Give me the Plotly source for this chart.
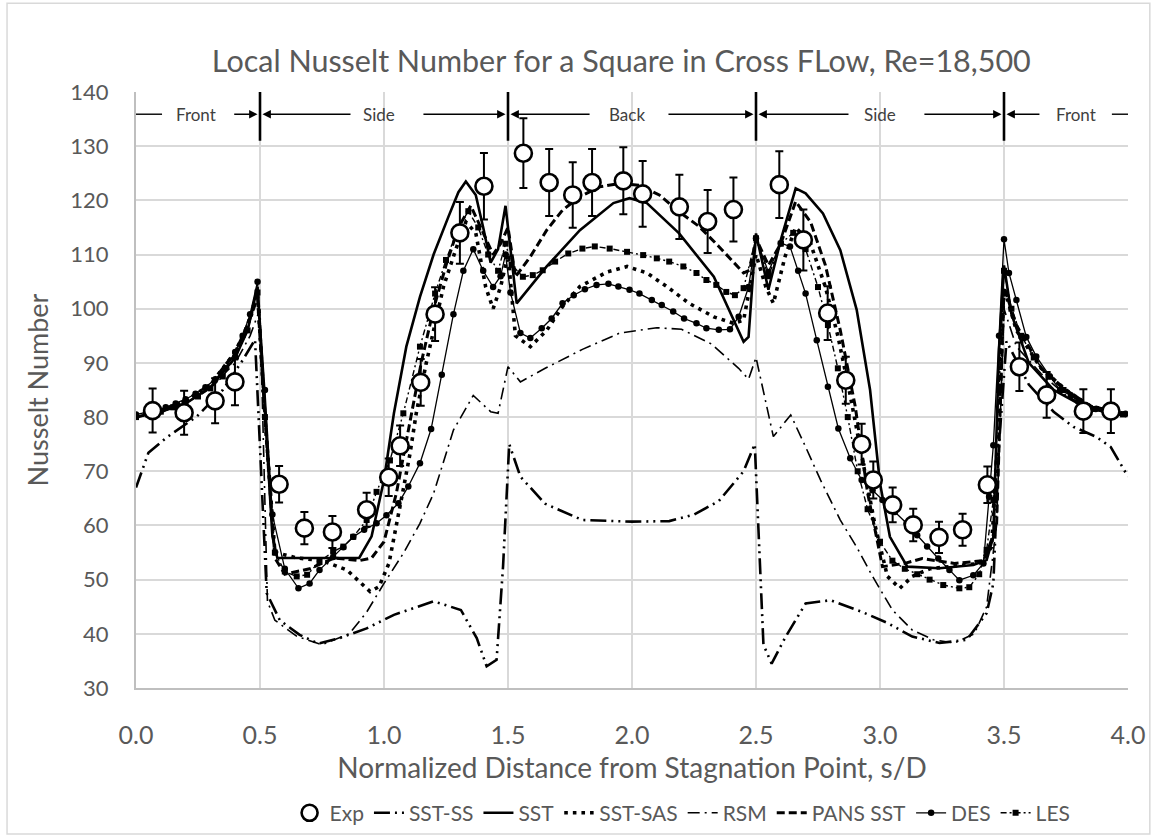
import plotly.graph_objects as go

# ---------------- data ----------------
exp_x = [0.067, 0.194, 0.319, 0.399, 0.577, 0.679, 0.792, 0.930, 1.019, 1.065,
         1.148, 1.206, 1.306, 1.403, 1.562, 1.666, 1.761, 1.839, 1.965, 2.043,
         2.191, 2.305, 2.409, 2.594, 2.691, 2.789, 2.862, 2.926, 2.973, 3.051,
         3.134, 3.238, 3.333, 3.433, 3.562, 3.672, 3.820, 3.931]
exp_y = [81.2, 80.8, 83.0, 86.5, 67.6, 59.5, 58.8, 62.9, 68.9, 74.7,
         86.4, 99.0, 114.0, 122.6, 128.7, 123.3, 121.0, 123.3, 123.6, 121.2,
         118.8, 116.1, 118.3, 122.9, 112.7, 99.2, 86.8, 75.0, 68.4, 63.8,
         60.1, 57.8, 59.2, 67.5, 89.3, 84.1, 81.1, 81.1]
exp_err_pct = 5

sst_ss_x = [0.0, 0.05, 0.125, 0.245, 0.35, 0.43, 0.48, 0.50, 0.527, 0.58,
            0.66, 0.735, 0.82, 0.93, 1.04, 1.2, 1.31, 1.374, 1.414, 1.454,
            1.48, 1.505, 1.55, 1.65, 1.8, 2.0, 2.15, 2.25, 2.35, 2.45,
            2.495, 2.53, 2.563, 2.62, 2.70, 2.8, 2.93, 3.03, 3.13, 3.24,
            3.35, 3.43, 3.457, 3.48, 3.51, 3.6, 3.7, 3.78, 3.87, 3.93, 4.0]
sst_ss_y = [67.0, 73.4, 76.3, 80.1, 85.0, 90.5, 94.3, 75.0, 47.5, 42.5,
            39.8, 38.2, 39.2, 41.0, 43.5, 46.0, 44.4, 39.2, 34.0, 35.2,
            52.4, 75.0, 69.0, 64.0, 61.0, 60.7, 60.8, 62.0, 64.5, 70.0,
            75.0, 38.0, 34.5, 39.5, 45.6, 46.2, 44.0, 42.0, 39.5, 38.3,
            38.9, 43.8, 49.3, 75.0, 94.0, 86.0, 81.0, 78.2, 76.4, 74.5, 69.0]

sst_x = [0.0, 0.1, 0.2, 0.3, 0.4, 0.45, 0.49, 0.52, 0.55, 0.57,
         0.7, 0.9, 0.95, 1.0, 1.04, 1.09, 1.145, 1.2, 1.26, 1.3,
         1.33, 1.37, 1.40, 1.43, 1.46, 1.49, 1.535, 1.656, 1.79, 1.925,
         1.99, 2.06, 2.19, 2.33, 2.45, 2.47, 2.50, 2.55, 2.60, 2.66,
         2.70, 2.77, 2.84, 2.906, 2.96, 3.0, 3.04, 3.11, 3.24, 3.376,
         3.43, 3.457, 3.48, 3.50, 3.53, 3.6, 3.7, 3.8, 3.9, 4.0]
sst_y = [80.0, 81.0, 82.5, 85.5, 91.0, 96.0, 104.0, 80.0, 58.0, 54.0,
         54.0, 54.0, 58.0, 68.4, 80.7, 93.0, 102.2, 110.0, 117.0, 121.5,
         123.5, 121.0, 115.0, 108.5, 111.0, 119.0, 101.0, 107.8, 114.5, 119.5,
         120.4, 119.5, 113.9, 105.9, 93.9, 94.8, 113.9, 103.5, 112.7, 122.2,
         121.3, 117.6, 110.8, 99.8, 85.0, 67.8, 57.9, 52.4, 52.1, 52.7,
         53.6, 57.9, 92.4, 108.0, 99.0, 90.0, 85.0, 82.5, 81.0, 80.5]

sas_x = [0.0, 0.1, 0.2, 0.3, 0.4, 0.45, 0.49, 0.52, 0.56, 0.65,
         0.75, 0.85, 0.944, 0.98, 1.02, 1.05, 1.08, 1.105, 1.13, 1.17,
         1.2, 1.24, 1.29, 1.33, 1.37, 1.41, 1.44, 1.47, 1.50, 1.53,
         1.59, 1.656, 1.72, 1.79, 1.90, 1.98, 2.06, 2.14, 2.23, 2.33,
         2.41, 2.45, 2.50, 2.54, 2.57, 2.617, 2.66, 2.72, 2.78, 2.83,
         2.88, 2.93, 2.98, 3.03, 3.08, 3.13, 3.2, 3.3, 3.4, 3.45,
         3.48, 3.50, 3.55, 3.65, 3.75, 3.85, 4.0]
sas_y = [80.0, 81.0, 83.0, 86.0, 92.0, 97.0, 103.0, 80.0, 55.0, 54.0,
         53.5, 51.8, 47.8, 48.7, 53.0, 59.8, 67.2, 73.3, 80.7, 89.9,
         96.1, 104.1, 111.0, 116.0, 114.0, 104.0, 100.0, 104.0, 110.0, 95.0,
         93.0, 96.0, 100.4, 104.1, 106.8, 107.8, 106.6, 104.1, 101.0, 98.5,
         97.3, 97.9, 110.0, 104.0, 101.0, 109.6, 115.0, 112.0, 104.0, 95.0,
         84.0, 72.0, 60.0, 50.6, 48.4, 50.6, 52.0, 52.5, 53.0, 56.0,
         80.0, 104.0, 96.0, 89.0, 85.0, 82.0, 80.5]

rsm_x = [0.0, 0.1, 0.2, 0.3, 0.4, 0.46, 0.5, 0.53, 0.56, 0.65,
         0.75, 0.86, 0.93, 1.0, 1.08, 1.145, 1.2, 1.28, 1.36, 1.43,
         1.46, 1.5, 1.55, 1.65, 1.8, 1.95, 2.1, 2.2, 2.32, 2.43,
         2.47, 2.5, 2.57, 2.64, 2.7, 2.76, 2.84, 2.906, 2.97, 3.05,
         3.13, 3.215, 3.30, 3.38, 3.43, 3.47, 3.5, 3.55, 3.65, 3.75,
         3.85, 4.0]
rsm_y = [80.0, 81.0, 82.5, 85.5, 90.0, 95.0, 100.0, 46.0, 42.5, 39.5,
         38.0, 40.0, 44.0, 49.3, 55.0, 60.4, 65.9, 77.6, 84.0, 81.0,
         80.7, 89.3, 86.5, 89.0, 92.5, 95.5, 96.5, 96.2, 93.5, 89.0,
         87.0, 91.0, 76.4, 80.4, 74.5, 68.4, 61.0, 56.0, 50.6, 44.4,
         40.7, 38.9, 38.3, 40.0, 45.0, 60.0, 100.0, 93.0, 88.0, 84.0,
         81.5, 80.0]

pans_x = [0.0, 0.1, 0.2, 0.3, 0.4, 0.45, 0.49, 0.52, 0.56, 0.6,
          0.7, 0.8, 0.9, 0.95, 1.0, 1.05, 1.1, 1.15, 1.2, 1.25,
          1.3, 1.35, 1.40, 1.44, 1.47, 1.50, 1.53, 1.59, 1.656, 1.72,
          1.79, 1.87, 1.95, 2.03, 2.11, 2.19, 2.27, 2.35, 2.45, 2.475,
          2.50, 2.55, 2.60, 2.66, 2.72, 2.78, 2.84, 2.90, 2.95, 3.01,
          3.10, 3.17, 3.30, 3.42, 3.47, 3.50, 3.55, 3.65, 3.75, 3.85, 4.0]
pans_y = [80.0, 81.0, 83.0, 86.0, 92.0, 97.0, 102.0, 80.0, 54.0, 51.0,
          52.0, 54.0, 53.5, 54.0, 57.0, 66.0, 78.0, 90.0, 100.0, 108.0,
          115.0, 119.0, 114.0, 110.0, 112.0, 115.0, 105.9, 109.6, 114.5, 118.2,
          120.7, 122.5, 123.1, 122.8, 121.0, 117.9, 115.2, 111.5, 106.6, 107.1,
          113.0, 108.0, 112.0, 119.8, 116.0, 108.0, 96.0, 82.0, 66.0, 52.4,
          53.0, 53.9, 53.0, 53.5, 60.0, 104.0, 97.0, 89.0, 85.0, 82.0, 80.5]

des_x = [0.0, 0.04, 0.08, 0.12, 0.16, 0.2, 0.24, 0.28, 0.32, 0.36,
         0.40, 0.43, 0.46, 0.49, 0.52, 0.55, 0.60, 0.655, 0.70, 0.74,
         0.795, 0.836, 0.876, 0.92, 0.97, 1.01, 1.058, 1.098, 1.145, 1.19,
         1.233, 1.28, 1.32, 1.36, 1.40, 1.44, 1.47, 1.49, 1.51, 1.55,
         1.59, 1.636, 1.676, 1.72, 1.765, 1.81, 1.857, 1.905, 1.945, 1.99,
         2.03, 2.08, 2.12, 2.166, 2.21, 2.26, 2.30, 2.35, 2.395, 2.43,
         2.47, 2.50, 2.55, 2.60, 2.637, 2.67, 2.70, 2.745, 2.79, 2.832,
         2.88, 2.926, 2.97, 3.01, 3.06, 3.107, 3.15, 3.19, 3.235, 3.28,
         3.32, 3.376, 3.417, 3.44, 3.457, 3.48, 3.50, 3.52, 3.55, 3.59,
         3.63, 3.685, 3.726, 3.77, 3.83, 3.87, 3.91, 3.95, 3.99]
des_y = [80.5, 80.8, 81.2, 81.8, 82.5, 83.3, 84.3, 85.5, 87.0, 89.0,
         92.0, 95.0, 99.0, 105.0, 85.0, 62.0, 52.0, 48.4, 49.3, 51.8,
         54.2, 56.0, 57.9, 59.2, 60.4, 61.9, 64.1, 67.2, 71.5, 77.8,
         87.8, 99.0, 107.0, 111.0, 107.0, 104.0, 106.0, 110.0, 103.0, 95.5,
         94.6, 96.4, 98.2, 101.0, 102.5, 103.6, 104.4, 104.6, 104.1, 103.5,
         102.8, 101.6, 100.7, 99.5, 98.2, 97.3, 96.4, 96.1, 96.2, 98.5,
         104.0, 113.0, 106.8, 112.1, 111.5, 107.0, 102.8, 94.2, 85.6, 77.9,
         72.4, 68.4, 66.5, 64.7, 62.5, 60.4, 58.2, 56.1, 53.9, 51.8,
         49.9, 50.8, 53.0, 65.3, 74.8, 95.0, 112.8, 106.6, 101.6, 94.8,
         91.2, 87.5, 85.0, 84.0, 82.0, 81.5, 81.0, 80.8, 80.6]

les_x = [0.0, 0.05, 0.1, 0.15, 0.2, 0.25, 0.3, 0.35, 0.4, 0.45,
         0.49, 0.52, 0.56, 0.60, 0.648, 0.69, 0.74, 0.795, 0.836, 0.876,
         0.93, 0.97, 1.024, 1.078, 1.145, 1.206, 1.25, 1.30, 1.34, 1.38,
         1.42, 1.46, 1.49, 1.515, 1.56, 1.60, 1.64, 1.69, 1.743, 1.80,
         1.85, 1.91, 1.98, 2.045, 2.10, 2.15, 2.207, 2.26, 2.30, 2.34,
         2.38, 2.415, 2.45, 2.50, 2.55, 2.60, 2.65, 2.70, 2.75, 2.79,
         2.83, 2.87, 2.91, 2.95, 3.0, 3.05, 3.1, 3.15, 3.2, 3.255,
         3.32, 3.36, 3.40, 3.43, 3.457, 3.48, 3.50, 3.53, 3.57, 3.62,
         3.68, 3.74, 3.80, 3.86, 3.92, 3.98]
les_y = [80.0, 80.5, 81.0, 81.8, 82.7, 83.8, 85.3, 87.5, 91.0, 96.0,
         103.0, 80.0, 55.0, 51.5, 50.6, 50.9, 53.3, 55.2, 56.1, 57.9,
         61.0, 66.2, 72.0, 80.7, 93.0, 102.8, 109.0, 115.0, 118.0, 115.0,
         110.0, 107.0, 112.0, 108.1, 105.9, 106.2, 107.1, 108.7, 110.2, 111.1,
         111.5, 111.1, 110.5, 109.9, 109.3, 108.7, 107.8, 106.6, 105.3, 104.4,
         103.1, 102.5, 103.8, 113.0, 106.0, 112.0, 114.0, 111.0, 104.0, 97.0,
         89.0, 80.0, 70.0, 63.0, 57.0, 53.5, 52.0, 51.0, 50.0, 49.0,
         48.4, 48.6, 51.0, 55.5, 64.7, 85.0, 107.0, 100.0, 95.0, 91.0,
         87.5, 85.0, 83.0, 81.5, 80.8, 80.5]

# cylinder faces along the perimeter
face_names = ["Front", "Side", "Back", "Side", "Front"]
face_label_x = [0.24, 0.98, 1.98, 3.0, 3.79]
corner_x = [0.5, 1.5, 2.5, 3.5]

x_ticks = [0.0, 0.5, 1.0, 1.5, 2.0, 2.5, 3.0, 3.5, 4.0]
y_ticks = [30, 40, 50, 60, 70, 80, 90, 100, 110, 120, 130, 140]

# ---------------- styling ----------------
BLACK = "#000000"
TEXT = "#595959"
GRID = "#d9d9d9"
FONT = "Lato"

fig = go.Figure()

fig.add_trace(go.Scatter(
    x=sst_ss_x, y=sst_ss_y, name="SST-SS", mode="lines", legendrank=2,
    line=dict(color=BLACK, width=2.6, dash="16px,5px,2px,5px,2px,5px")))
fig.add_trace(go.Scatter(
    x=sst_x, y=sst_y, name="SST", mode="lines", legendrank=3,
    line=dict(color=BLACK, width=2.6)))
fig.add_trace(go.Scatter(
    x=sas_x, y=sas_y, name="SST-SAS", mode="lines", legendrank=4,
    line=dict(color=BLACK, width=3.6, dash="3.6px,5px")))
fig.add_trace(go.Scatter(
    x=rsm_x, y=rsm_y, name="RSM", mode="lines", legendrank=5,
    line=dict(color=BLACK, width=1.6, dash="12px,5px,2px,5px")))
fig.add_trace(go.Scatter(
    x=pans_x, y=pans_y, name="PANS SST", mode="lines", legendrank=6,
    line=dict(color=BLACK, width=3, dash="8px,4px")))
fig.add_trace(go.Scatter(
    x=des_x, y=des_y, name="DES", mode="lines+markers", legendrank=7,
    line=dict(color=BLACK, width=1.3),
    marker=dict(symbol="circle", size=6.5, color=BLACK)))
fig.add_trace(go.Scatter(
    x=les_x, y=les_y, name="LES", mode="lines+markers", legendrank=8,
    line=dict(color=BLACK, width=1.4, dash="6px,3px,2px,3px"),
    marker=dict(symbol="square", size=6, color=BLACK)))
fig.add_trace(go.Scatter(
    x=exp_x, y=exp_y, name="Exp", mode="markers", legendrank=1,
    marker=dict(symbol="circle", size=17, color="white",
                line=dict(color=BLACK, width=2.6)),
    error_y=dict(type="percent", value=exp_err_pct, color=BLACK,
                 thickness=2, width=4)))

# face labels and extent arrows across the top of the plot
Y_ARROW = 135.9
shapes = []
annotations = []
for cx in corner_x:
    shapes.append(dict(type="line", xref="x", yref="y", x0=cx, x1=cx,
                       y0=131.0, y1=140.3, line=dict(color=BLACK, width=2.6)))
for x0, x1 in [(0.0, 0.105), (3.935, 4.0)]:
    shapes.append(dict(type="line", xref="x", yref="y", x0=x0, x1=x1,
                       y0=Y_ARROW, y1=Y_ARROW, line=dict(color=BLACK, width=1.4)))
arrow_pairs = [(0.39, 0.49), (0.871, 0.51), (1.153, 1.49), (1.835, 1.51),
               (2.141, 2.49), (2.879, 2.51), (3.173, 3.49), (3.649, 3.51)]
for tail, head in arrow_pairs:
    annotations.append(dict(x=head, y=Y_ARROW, ax=tail, ay=Y_ARROW,
                            xref="x", yref="y", axref="x", ayref="y",
                            text="", showarrow=True, arrowhead=2,
                            arrowsize=1.2, arrowwidth=1.4, arrowcolor=BLACK))
for name, lx in zip(face_names, face_label_x):
    annotations.append(dict(x=lx, y=Y_ARROW, xref="x", yref="y", text=name,
                            showarrow=False,
                            font=dict(family=FONT, size=17, color="#404040")))

# chart-area frame
shapes.append(dict(type="rect", xref="paper", yref="paper",
                   x0=-0.130, x1=1.022, y0=-0.245, y1=1.149,
                   line=dict(color=GRID, width=1.5), layer="below"))

fig.update_layout(
    width=1157, height=839,
    margin=dict(l=136, r=29, t=92, b=151, pad=0, autoexpand=False),
    paper_bgcolor="white", plot_bgcolor="white",
    font=dict(family=FONT, color=TEXT),
    title=dict(text="Local Nusselt Number for a Square in Cross FLow, Re=18,500",
               x=0.537, xanchor="center", y=0.927, yanchor="middle",
               font=dict(family=FONT, size=30.5, color=TEXT)),
    showlegend=True,
    legend=dict(orientation="h", x=0.551, xanchor="center", y=-0.21,
                yanchor="middle", font=dict(family=FONT, size=21, color=TEXT),
                itemwidth=30, bgcolor="rgba(0,0,0,0)"),
    shapes=shapes, annotations=annotations,
    hovermode=False,
)
fig.update_xaxes(
    range=[0, 4], tickvals=x_ticks, tickformat=".1f", automargin=False,
    showgrid=True, gridcolor=GRID, gridwidth=1.5, zeroline=False,
    showline=True, linecolor="#bfbfbf", linewidth=2, ticks="",
    tickfont=dict(family=FONT, size=25, color=TEXT), ticklabelstandoff=24,
    title=dict(text="Normalized Distance from Stagnation Point, s/D",
               font=dict(family=FONT, size=28, color=TEXT), standoff=10))
fig.update_yaxes(
    range=[30, 140], tickvals=y_ticks, automargin=False,
    showgrid=True, gridcolor=GRID, gridwidth=1.5, zeroline=False,
    showline=True, linecolor="#bfbfbf", linewidth=2, ticks="",
    tickfont=dict(family=FONT, size=22, color=TEXT), ticklabelstandoff=21,
    title=dict(text="Nusselt Number",
               font=dict(family=FONT, size=27, color=TEXT), standoff=14))

fig.write_html("out.html")
